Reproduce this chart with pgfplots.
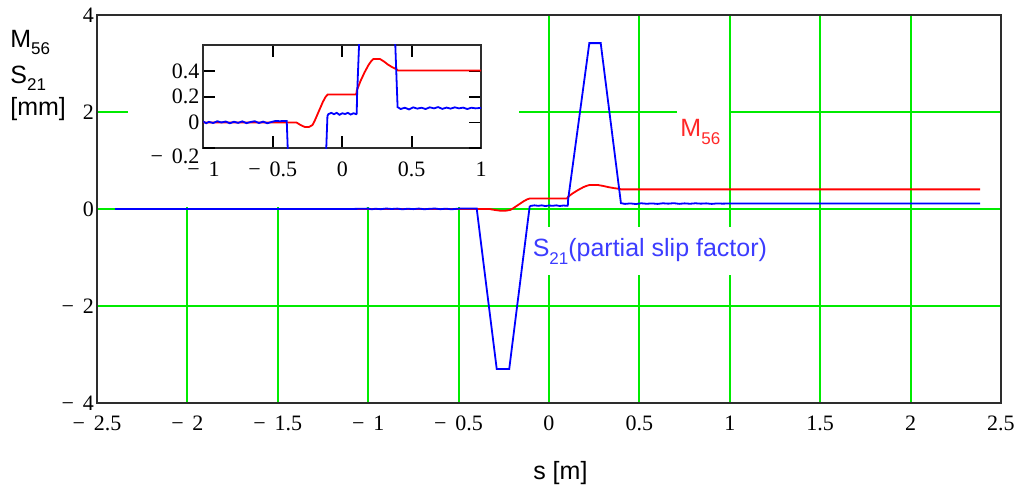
\documentclass[border=0pt]{standalone}
\usepackage{fontspec}
\setmainfont{Liberation Serif}
\newfontfamily\arial{Liberation Sans}
\usepackage{pgfplots}
\usepackage{pgfplotstable}
\pgfplotsset{compat=1.18}

\definecolor{gridgreen}{RGB}{0,235,0}
\definecolor{curvered}{RGB}{255,0,0}
\definecolor{curveblue}{RGB}{0,0,255}
\definecolor{lblblue}{RGB}{60,60,255}
\definecolor{lblred}{RGB}{255,40,40}
\definecolor{frame}{RGB}{45,45,45}
\newcommand{\lbl}{\arial\fontsize{12.5}{14}\selectfont}
\newcommand{\sub}[1]{\raisebox{-3.8pt}{\fontsize{8.5}{9}\selectfont #1}}
\newcommand{\mn}{−\hspace{0.4em}}

% S21, partial slip factor [mm]
\pgfplotstableread{
s v
-2.40 0
-1.10 0
-1.00 0.008
-0.98 -0.006
-0.96 0.005
-0.93 -0.004
-0.90 0.010
-0.87 0.000
-0.84 0.008
-0.81 -0.006
-0.78 0.006
-0.75 -0.003
-0.72 0.009
-0.69 -0.005
-0.66 0.004
-0.63 0.010
-0.60 -0.004
-0.57 0.007
-0.54 -0.006
-0.51 0.004
-0.48 0.012
-0.45 0.010
-0.42 0.012
-0.400 0.012
-0.289 -3.30
-0.220 -3.30
-0.107 0.05
-0.100 0.065
-0.08 0.075
-0.06 0.065
-0.04 0.075
-0.02 0.060
0.00 0.072
0.02 0.066
0.04 0.075
0.06 0.062
0.08 0.072
0.100 0.065
0.104 0.070
0.106 0.20
0.223 3.42
0.286 3.42
0.398 0.12
0.42 0.105
0.45 0.115
0.48 0.102
0.51 0.118
0.54 0.108
0.57 0.115
0.60 0.105
0.63 0.118
0.66 0.110
0.69 0.120
0.72 0.106
0.75 0.116
0.78 0.108
0.81 0.118
0.84 0.110
0.87 0.116
0.90 0.105
0.93 0.115
0.96 0.110
1.00 0.114
2.385 0.114
}\sblue

% M56 [mm]
\pgfplotstableread{
s v
-2.40 0
-0.33 0
-0.30 -0.02
-0.27 -0.035
-0.24 -0.035
-0.215 -0.02
-0.20 0.01
-0.18 0.06
-0.16 0.11
-0.14 0.16
-0.12 0.20
-0.105 0.218
0.100 0.218
0.105 0.25
0.13 0.32
0.16 0.39
0.19 0.45
0.21 0.48
0.225 0.495
0.27 0.495
0.30 0.475
0.33 0.45
0.36 0.43
0.39 0.415
0.40 0.405
2.385 0.405
}\sred

\begin{document}
\begin{tikzpicture}[font=\fontsize{11}{13}\selectfont]
\begin{axis}[
    name=main,
    at={(0,0)}, anchor=south west,
    scale only axis, width=452pt, height=194pt,
    xmin=-2.5, xmax=2.5, ymin=-4, ymax=4,
    clip mode=individual,
    xtick={-2.5,-2,-1.5,-1,-0.5,0,0.5,1,1.5,2,2.5},
    xticklabels={\mn2.5,\mn2,\mn1.5,\mn1,\mn0.5,0,0.5,1,1.5,2,2.5},
    ytick={-4,-2,0,2,4},
    yticklabels={\mn4,\mn2,0,2,4},
    grid=major,
    major grid style={gridgreen, line width=1pt},
    major tick length=0pt,
    axis line style={frame, line width=1pt},
    xticklabel style={yshift=-3pt},
    yticklabel style={xshift=2pt},
]
% white regions that Mathcad keeps free of the grid
\fill[white] (axis cs:-2.33,0.05) rectangle (axis cs:-0.166,3.97);
\fill[white] (axis cs:0.71,1.3) rectangle (axis cs:0.995,2.2);
\fill[white] (axis cs:-0.09,-0.37) rectangle (axis cs:1.2,-1.36);
\addplot[curvered, line width=0.9pt] table {\sred};
\addplot[curveblue, line width=0.9pt] table {\sblue};
\node[anchor=base west, inner sep=0, text=lblred, font=\lbl] at (axis cs:0.725,1.485) {M\sub{56}};
\node[anchor=base west, inner sep=0, text=lblblue, font=\lbl] at (axis cs:-0.092,-0.983) {S\sub{21}(partial slip factor)};
\end{axis}
\node[anchor=base west, inner sep=0, font=\lbl] at ([xshift=-43.5pt,yshift=-16pt]main.north west) {M\sub{56}};
\node[anchor=base west, inner sep=0, font=\lbl] at ([xshift=-43.5pt,yshift=-34pt]main.north west) {S\sub{21}};
\node[anchor=base west, inner sep=0, font=\lbl] at ([xshift=-43.5pt,yshift=-50pt]main.north west) {[mm]};
\node[anchor=base, inner sep=0, font=\lbl] at ([xshift=5.7pt,yshift=-38.5pt]main.south) {s [m]};

\begin{axis}[
    at={(53.2pt,127.4pt)}, anchor=south west,
    scale only axis, width=138.9pt, height=51.7pt,
    xmin=-1, xmax=1, ymin=-0.2, ymax=0.605,
    xtick={-1,-0.5,0,0.5,1},
    xticklabels={\mn1,\mn0.5,0,0.5,1},
    ytick={0,0.2,0.4},
    yticklabels={0,0.2,0.4},
    extra y ticks={-0.2},
    extra y tick labels={\mn0.2},
    extra y tick style={yticklabel style={yshift=-4pt}},
    xtick pos=both, ytick pos=both,
    xticklabel pos=bottom, yticklabel pos=left,
    tick align=inside,
    major tick length=6pt,
    tick style={black, line width=0.9pt},
    axis line style={frame, line width=1pt},
    axis background/.style={fill=white},
    xticklabel style={yshift=-3.5pt},
    yticklabel style={xshift=1.5pt},
]
\addplot[curvered, line width=0.9pt] table {\sred};
\addplot[curveblue, line width=0.9pt] table {\sblue};
\end{axis}
\pgfresetboundingbox
\useasboundingbox (-48.5pt,-44pt) rectangle (463.5pt,201.5pt);
\end{tikzpicture}
\end{document}
